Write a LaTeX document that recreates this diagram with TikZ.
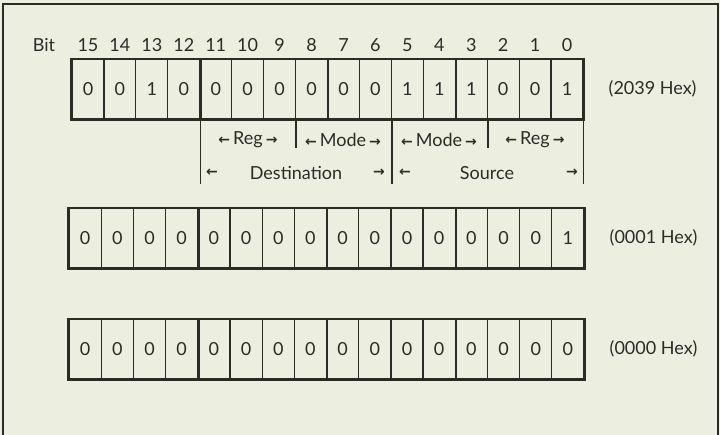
\documentclass[tikz,border=0pt]{standalone}
\usepackage{fontspec}
\setmainfont{Lato}
\newfontfamily\arrowfont{DejaVu Sans}
\usetikzlibrary{positioning}
\definecolor{paper}{HTML}{ECEEE0}
\definecolor{ink}{HTML}{2C2C26}
\newcommand\lar{{\arrowfont\bfseries\fontsize{7}{8}\selectfont ←}}
\newcommand\rar{{\arrowfont\bfseries\fontsize{7}{8}\selectfont →}}

\begin{document}
\begin{tikzpicture}[x=0.5pt, y=-0.5pt, font=\fontsize{9}{11}\selectfont, text=ink,
  bitcell/.style={draw=ink, line width=0.6pt, minimum height=30pt, inner sep=0pt},
  topcell/.style={bitcell, minimum width=15.97pt},
  lowcell/.style={bitcell, minimum width=16.1pt},
  nibble/.style={draw=ink, line width=1.2pt},
  wordbox/.style={draw=ink, line width=0.9pt},
  fieldline/.style={draw=ink, line width=0.8pt},
  hexlabel/.style={right=9pt of #1}]
\useasboundingbox (0,0) rectangle (720,435);
\fill[paper] (0,0) rectangle (720,435);
\draw[ink, line width=1pt] (3,435) -- (3,4) -- (718,4) -- (718,435);

% Instruction word
\node (bit) at (44,45) {Bit};
\foreach \b [count=\i from 0] in {0,0,1,0,0,0,0,0,0,0,1,1,1,0,0,1} {
  \node[topcell] (a\i) at (72+31.94*\i+15.97,89) {\b};
  \pgfmathtruncatemacro\n{15-\i}
  \node (num\i) at ([yshift=22pt]a\i.center) {\n};
}
\foreach \k in {3,7,11} \draw[nibble] (a\k.north east) -- (a\k.south east);
\draw[wordbox] (a0.north west) rectangle (a15.south east);
\node[hexlabel=a15] (hexa) {(2039 Hex)};

% Fields
\coordinate (dstl) at ([yshift=-32pt]a3.south east);
\coordinate (dstm) at ([yshift=-14pt]a6.south east);
\coordinate (srcl) at ([yshift=-32pt]a9.south east);
\coordinate (srcm) at ([yshift=-14pt]a12.south east);
\coordinate (srcr) at ([yshift=-32pt]a15.south east);
\draw[fieldline] (a3.south east) -- (dstl);
\draw[fieldline] (a6.south east) -- (dstm);
\draw[fieldline] (a9.south east) -- (srcl);
\draw[fieldline] (a12.south east) -- (srcm);
\draw[fieldline] (a15.south east) -- (srcr);
\node (dreg) at (248,140) {\lar\,Reg\,\rar};
\node (dmode) at (343,140) {\lar\,Mode\,\rar};
\node (smode) at (439,140) {\lar\,Mode\,\rar};
\node (sreg) at (535,140) {\lar\,Reg\,\rar};
\node (dstla) at (212,173) {\lar};
\node (dst) at (296,173) {Destination};
\node (dstra) at (379,173) {\rar};
\node (srcla) at (405,173) {\lar};
\node (src) at (487,173) {Source};
\node (srcra) at (572,173) {\rar};

% Result words
\foreach \b [count=\i from 0] in {0,0,0,0,0,0,0,0,0,0,0,0,0,0,0,1}
  \node[lowcell] (b\i) at (69+32.19*\i+16.1,238) {\b};
\foreach \k in {3,7,11} \draw[nibble] (b\k.north east) -- (b\k.south east);
\draw[wordbox] (b0.north west) rectangle (b15.south east);
\node[hexlabel=b15] (hexb) {(0001 Hex)};

\foreach \b [count=\i from 0] in {0,0,0,0,0,0,0,0,0,0,0,0,0,0,0,0}
  \node[lowcell] (c\i) at (69+32.19*\i+16.1,349) {\b};
\foreach \k in {3,7,11} \draw[nibble] (c\k.north east) -- (c\k.south east);
\draw[wordbox] (c0.north west) rectangle (c15.south east);
\node[hexlabel=c15] (hexc) {(0000 Hex)};
\end{tikzpicture}
\end{document}
